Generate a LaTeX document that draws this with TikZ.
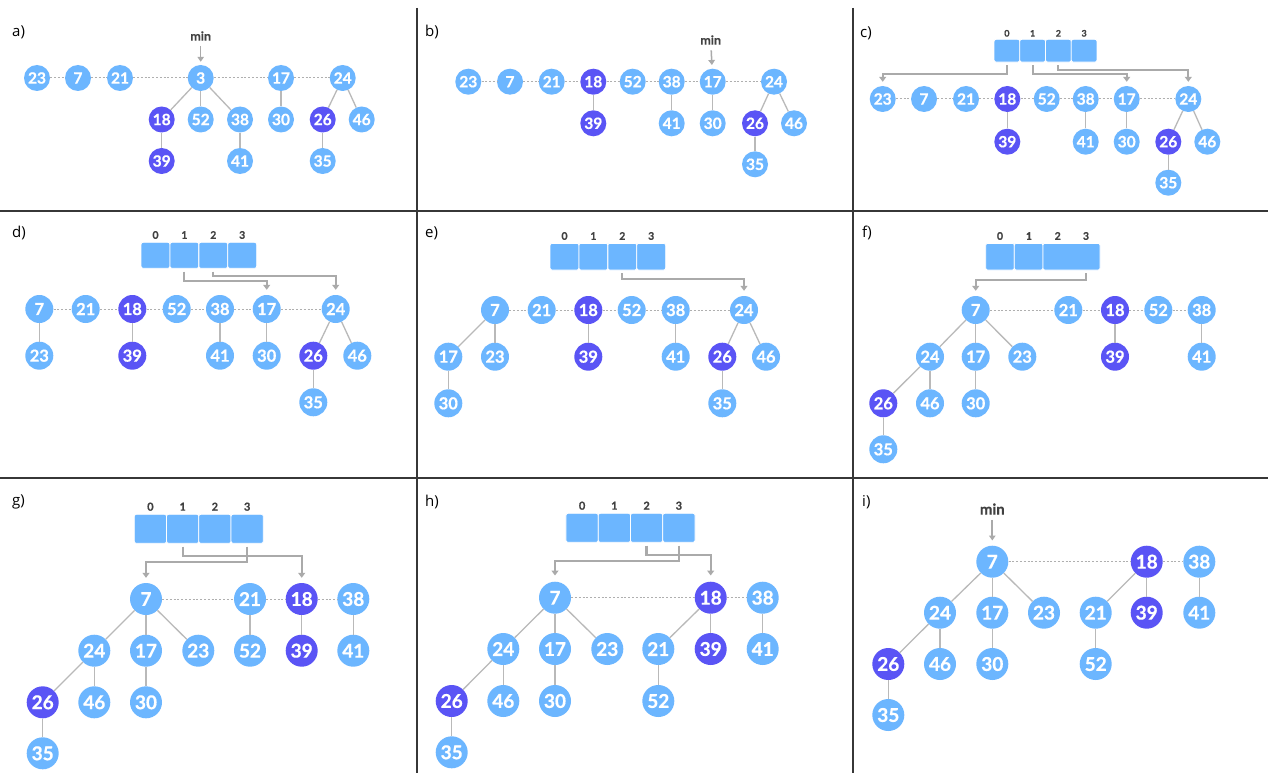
\documentclass[tikz,border=0pt]{standalone}
\usepackage{fontspec}
\setmainfont{Open Sans}
\newfontfamily\lato{Lato}[BoldFeatures={FakeBold=0.6}]
\usetikzlibrary{arrows.meta}
\definecolor{lb}{RGB}{108,182,255}
\definecolor{pp}{RGB}{90,84,245}
\definecolor{eg}{RGB}{185,185,185}
\definecolor{ag}{RGB}{170,170,170}
\definecolor{dg}{RGB}{175,175,175}
\definecolor{tx}{RGB}{65,65,65}
\definecolor{fr}{RGB}{55,55,55}
\newcommand\nfa{\lato\bfseries\fontsize{15.5}{15.5}\selectfont}
\newcommand\nfb{\lato\bfseries\fontsize{16.5}{16.5}\selectfont}
\newcommand\nfc{\lato\bfseries\fontsize{19}{19}\selectfont}
\begin{document}
\begin{tikzpicture}[x=1pt,y=-1pt,
 hn/.style={circle,inner sep=0pt,fill=lb,text=white},
 pu/.style={fill=pp},
 sa/.style={minimum size=26pt,font=\nfa},
 sb/.style={minimum size=28pt,font=\nfb},
 sc/.style={minimum size=32pt,font=\nfc},
 tedge/.style={draw=eg,line width=1.3pt},
 rootl/.style={draw=dg,line width=1pt,dash pattern=on 2pt off 1.8pt},
 arr/.style={draw=ag,line width=2pt,-{Triangle[length=5pt,width=7pt]}},
 marr/.style={draw=ag,line width=1.5pt,-{Triangle[length=5pt,width=6.5pt]}},
 minl/.style={font=\lato\bfseries\fontsize{12.5}{12.5}\selectfont,text=tx,inner sep=1pt},
 idxa/.style={font=\lato\bfseries\fontsize{9}{9}\selectfont,text=tx,inner sep=0pt},
 idxb/.style={font=\lato\bfseries\fontsize{10.5}{10.5}\selectfont,text=tx,inner sep=0pt},
 idxc/.style={font=\lato\bfseries\fontsize{11}{11}\selectfont,text=tx,inner sep=0pt},
 plab/.style={font=\fontsize{15}{18}\selectfont,anchor=west,inner sep=0pt},
 cell/.style={rectangle,fill=lb,draw=white,line width=0.8pt,rounded corners=2pt,inner sep=0pt},
 frame/.style={draw=fr,line width=1.5pt}
]
\useasboundingbox (0,0) rectangle (1268,773);
\fill[white] (0,0) rectangle (1268,773);
% frame
\draw[frame] (417,8) -- (417,773);
\draw[frame] (853,8) -- (853,773);
\draw[frame] (0,211) -- (1268,211);
\draw[frame] (0,478) -- (1268,478);
% labels
\node[plab] (la) at (12,32) {a)};
\node[plab] (lb) at (425,32) {b)};
\node[plab] (lc) at (860,33) {c)};
\node[plab] (ld) at (12,233) {d)};
\node[plab] (le) at (425,233) {e)};
\node[plab] (lf) at (862,233) {f)};
\node[plab] (lg) at (12,502) {g)};
\node[plab] (lh) at (425,502) {h)};
\node[plab] (li) at (862,502) {i)};

% ===== panel a
\foreach \v/\x in {23/37,7/78,21/120,3/200.7,17/281,24/342.7} \node[hn,sa] (a\v) at (\x,78) {\v};
\foreach \v/\x in {52/200.7,38/240,30/281,46/361.7} \node[hn,sa] (a\v) at (\x,119.5) {\v};
\foreach \v/\x in {18/161.7,26/322.7} \node[hn,sa,pu] (a\v) at (\x,119.5) {\v};
\node[hn,sa,pu] (a39) at (161.7,161) {39};
\foreach \v/\x in {41/240,35/322.7} \node[hn,sa] (a\v) at (\x,161) {\v};
\draw[rootl] (a23) -- (a7) -- (a21) -- (a3) -- (a17) -- (a24);
\foreach \p/\c in {3/18,3/52,3/38,18/39,38/41,17/30,24/26,24/46,26/35} \draw[tedge] (a\p) -- (a\c);
\node[minl] (amin) at (200.7,36) {min};
\draw[marr,shorten <=4pt,shorten >=3pt] (amin) -- (a3);

% ===== panel b
\foreach \v/\x in {23/468.3,7/510,21/551.7,52/632.7,38/671.7,17/712.7,24/774} \node[hn,sa] (b\v) at (\x,81.7) {\v};
\node[hn,sa,pu] (b18) at (593.3,81.7) {18};
\foreach \v/\x in {41/671.7,30/712.7,46/794} \node[hn,sa] (b\v) at (\x,123.3) {\v};
\foreach \v/\x in {39/593.3,26/755} \node[hn,sa,pu] (b\v) at (\x,123.3) {\v};
\node[hn,sa] (b35) at (755,164.3) {35};
\draw[rootl] (b23) -- (b7) -- (b21) -- (b18) -- (b52) -- (b38) -- (b17) -- (b24);
\foreach \p/\c in {18/39,38/41,17/30,24/26,24/46,26/35} \draw[tedge] (b\p) -- (b\c);
\node[minl] (bmin) at (710.7,40) {min};
\draw[marr,shorten <=4.5pt,shorten >=3.5pt] (bmin) -- (b17);

% ===== panel c
\foreach \v/\x in {23/882.7,7/924,21/966,52/1046.7,38/1085.7,17/1126.7,24/1188.3} \node[hn,sa] (c\v) at (\x,99) {\v};
\node[hn,sa,pu] (c18) at (1007.3,99) {18};
\foreach \v/\x in {41/1085.7,30/1126.7,46/1207.3} \node[hn,sa] (c\v) at (\x,141.7) {\v};
\foreach \v/\x in {39/1007.3,26/1168.3} \node[hn,sa,pu] (c\v) at (\x,141.7) {\v};
\node[hn,sa] (c35) at (1168.3,182.7) {35};
\draw[rootl] (c23) -- (c7) -- (c21) -- (c18) -- (c52) -- (c38) -- (c17) -- (c24);
\foreach \p/\c in {18/39,38/41,17/30,24/26,24/46,26/35} \draw[tedge] (c\p) -- (c\c);
\foreach \i/\x in {0/1006.9,1/1032.6,2/1058.4,3/1084.1} {
  \node[cell,minimum width=25.75pt,minimum height=22.7pt] (cc\i) at (\x,50.7) {};
  \node[idxa] (ci\i) at (\x,33.3) {\i};
}
\draw[arr,shorten <=3pt] (cc0.south) -- ++(0,12) -| ([yshift=4pt]c23.north);
\draw[arr,shorten <=3pt] (cc1.south) -- ++(0,12) -| ([yshift=4pt]c17.north);
\draw[arr,shorten <=3pt] (cc2.south) -- ++(0,7.3) -| ([yshift=4pt]c24.north);

% ===== panel d
\foreach \v/\x in {7/39.3,21/85.7,52/176.7,38/220,17/266.7,24/335.7} \node[hn,sb] (d\v) at (\x,309) {\v};
\node[hn,sb,pu] (d18) at (132.3,309) {18};
\foreach \v/\x in {23/39.3,41/220,30/266.7,46/357.3} \node[hn,sb] (d\v) at (\x,355.7) {\v};
\foreach \v/\x in {39/132.3,26/313.3} \node[hn,sb,pu] (d\v) at (\x,355.7) {\v};
\node[hn,sb] (d35) at (313.3,402.3) {35};
\draw[rootl] (d7) -- (d21) -- (d18) -- (d52) -- (d38) -- (d17) -- (d24);
\foreach \p/\c in {7/23,18/39,38/41,17/30,24/26,24/46,26/35} \draw[tedge] (d\p) -- (d\c);
\foreach \i/\x in {0/155.5,1/184.4,2/213.3,3/242.2} {
  \node[cell,minimum width=28.9pt,minimum height=26pt] (dc\i) at (\x,255.3) {};
  \node[idxb] (di\i) at (\x,235) {\i};
}
\draw[arr,shorten <=3pt] (dc1.south) -- ++(0,12.4) -| ([yshift=5pt]d17.north);
\draw[arr,shorten <=3pt] (dc2.south) -- ++(0,7.4) -| ([yshift=5pt]d24.north);

% ===== panel e
\foreach \v/\x in {7/495,21/541.7,52/631.7,38/675.7,24/744} \node[hn,sb] (e\v) at (\x,310) {\v};
\node[hn,sb,pu] (e18) at (588.3,310) {18};
\foreach \v/\x in {17/448.3,23/495,41/675.7,46/766} \node[hn,sb] (e\v) at (\x,356.7) {\v};
\foreach \v/\x in {39/588.3,26/722.3} \node[hn,sb,pu] (e\v) at (\x,356.7) {\v};
\foreach \v/\x in {30/448.3,35/722.3} \node[hn,sb] (e\v) at (\x,403.3) {\v};
\draw[rootl] (e7) -- (e21) -- (e18) -- (e52) -- (e38) -- (e24);
\foreach \p/\c in {7/17,7/23,17/30,18/39,38/41,24/26,24/46,26/35} \draw[tedge] (e\p) -- (e\c);
\foreach \i/\x in {0/564.5,1/593.4,2/622.3,3/651.2} {
  \node[cell,minimum width=28.9pt,minimum height=26.7pt] (ec\i) at (\x,256.7) {};
  \node[idxb] (ei\i) at (\x,236) {\i};
}
\draw[arr,shorten <=3pt] (ec2.south) -- ++(0,8.3) -| ([yshift=5pt]e24.north);

% ===== panel f
\foreach \v/\x in {7/975.7,21/1068.3,52/1158.3,38/1201.7} \node[hn,sb] (f\v) at (\x,310) {\v};
\node[hn,sb,pu] (f18) at (1115,310) {18};
\foreach \v/\x in {24/930,17/975.7,23/1022.3,41/1201.7} \node[hn,sb] (f\v) at (\x,356.7) {\v};
\node[hn,sb,pu] (f39) at (1115,356.7) {39};
\foreach \v/\x in {46/930,30/975.7} \node[hn,sb] (f\v) at (\x,403.3) {\v};
\node[hn,sb,pu] (f26) at (883.3,403.3) {26};
\node[hn,sb] (f35) at (883.3,449.3) {35};
\draw[rootl] (f7) -- (f21) -- (f18) -- (f52) -- (f38);
\foreach \p/\c in {7/24,7/17,7/23,24/26,24/46,26/35,17/30,18/39,38/41} \draw[tedge] (f\p) -- (f\c);
\node[cell,minimum width=28.6pt,minimum height=26.7pt] (fc0) at (1000,256.7) {};
\node[cell,minimum width=28.6pt,minimum height=26.7pt] (fc1) at (1028.6,256.7) {};
\node[cell,minimum width=57.1pt,minimum height=26.7pt] (fc23) at (1071.45,256.7) {};
\foreach \i/\x in {0/1000,1/1029,2/1057.7,3/1086} \node[idxb] (fi\i) at (\x,236) {\i};
\draw[arr,shorten <=3pt] (fi3 |- fc23.south) -- ++(0,9.3) -| ([yshift=5pt]f7.north);

% ===== panel g
\foreach \v/\x in {7/146,21/250,38/353.3} \node[hn,sc] (g\v) at (\x,599) {\v};
\node[hn,sc,pu] (g18) at (301.7,599) {18};
\foreach \v/\x in {24/94.3,17/146,23/198.3,52/250,41/353.3} \node[hn,sc] (g\v) at (\x,650.7) {\v};
\node[hn,sc,pu] (g39) at (301.7,650.7) {39};
\foreach \v/\x in {46/94.3,30/146} \node[hn,sc] (g\v) at (\x,702.3) {\v};
\node[hn,sc,pu] (g26) at (42.7,702.3) {26};
\node[hn,sc] (g35) at (42.7,753.3) {35};
\draw[rootl] (g7) -- (g21) -- (g18) -- (g38);
\foreach \p/\c in {7/24,7/17,7/23,24/26,24/46,26/35,17/30,21/52,18/39,38/41} \draw[tedge] (g\p) -- (g\c);
\foreach \i/\x in {0/150.4,1/182.7,2/214.9,3/247.2} {
  \node[cell,minimum width=32.25pt,minimum height=29pt] (gc\i) at (\x,528.8) {};
  \node[idxc] (gi\i) at (\x,506.7) {\i};
}
\draw[arr,line width=2.3pt,shorten <=3pt] (gc3.south) -- ++(0,18.4) -| ([yshift=5pt]g7.north);
\draw[arr,line width=2.3pt,shorten <=3pt] (gc1.south) -- ++(0,12.4) -| ([yshift=5pt]g18.north);

% ===== panel h
\foreach \v/\x in {7/555,38/762.7} \node[hn,sc] (h\v) at (\x,597.7) {\v};
\node[hn,sc,pu] (h18) at (710.7,597.7) {18};
\foreach \v/\x in {24/503.3,17/555,23/607.3,21/658.3,41/762.7} \node[hn,sc] (h\v) at (\x,649) {\v};
\node[hn,sc,pu] (h39) at (710.7,649) {39};
\foreach \v/\x in {46/503.3,30/555,52/658.3} \node[hn,sc] (h\v) at (\x,701) {\v};
\node[hn,sc,pu] (h26) at (451.7,701) {26};
\node[hn,sc] (h35) at (451.7,752.3) {35};
\draw[rootl] (h7) -- (h18) -- (h38);
\foreach \p/\c in {7/24,7/17,7/23,24/26,24/46,26/35,17/30,18/21,18/39,21/52,38/41} \draw[tedge] (h\p) -- (h\c);
\foreach \i/\x in {0/582.1,1/614.4,2/646.6,3/678.9} {
  \node[cell,minimum width=32.25pt,minimum height=29pt] (hc\i) at (\x,527.8) {};
  \node[idxc] (hi\i) at (\x,505.7) {\i};
}
\draw[arr,line width=2.3pt,shorten <=3pt] (hc3.south) -- ++(0,18.4) -| ([yshift=6pt]h7.north);
\draw[arr,line width=2.3pt,shorten <=3pt] (hc2.south) -- ++(0,12) -| ([yshift=6pt]h18.north);

% ===== panel i
\foreach \v/\x in {7/992.3,38/1199.3} \node[hn,sc] (i\v) at (\x,561.7) {\v};
\node[hn,sc,pu] (i18) at (1146.7,561.7) {18};
\foreach \v/\x in {24/940,17/992.3,23/1044,21/1095.7,41/1199.3} \node[hn,sc] (i\v) at (\x,612.7) {\v};
\node[hn,sc,pu] (i39) at (1146.7,612.7) {39};
\foreach \v/\x in {46/940,30/992.3,52/1095.7} \node[hn,sc] (i\v) at (\x,664) {\v};
\node[hn,sc,pu] (i26) at (888.3,664) {26};
\node[hn,sc] (i35) at (888.3,715) {35};
\draw[rootl] (i7) -- (i18) -- (i38);
\foreach \p/\c in {7/24,7/17,7/23,24/26,24/46,26/35,17/30,18/21,18/39,21/52,38/41} \draw[tedge] (i\p) -- (i\c);
\node[minl,font=\lato\bfseries\fontsize{15}{15}\selectfont] (imin) at (992.3,509) {min};
\draw[marr,line width=2pt,shorten <=4pt,shorten >=5pt] (imin) -- (i7);
\end{tikzpicture}
\end{document}
